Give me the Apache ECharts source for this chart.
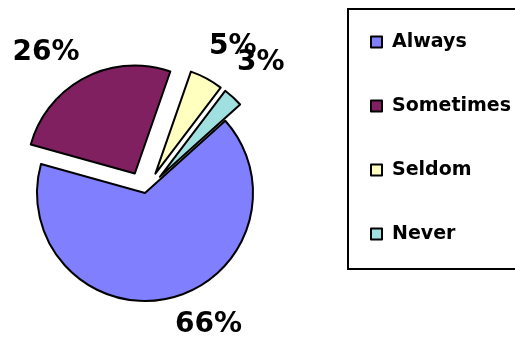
<!DOCTYPE html>
<html>
<head>
<meta charset="utf-8">
<script src="https://cdn.jsdelivr.net/npm/echarts@6/dist/echarts.min.js"></script>
<style>
html,body{margin:0;padding:0;background:#fff;}
#chart{width:515px;height:343px;}
</style>
</head>
<body>
<div id="chart"></div>
<script>
var categories = ['Always', 'Sometimes', 'Seldom', 'Never'];
var values = [66, 26, 5, 3];
var colors = ['#8080FF', '#802060', '#FFFFC0', '#A0E0E0'];
var exploded = [false, true, true, true];
// label line lengths used only to place the outside labels
var labelLen = [27.5, 28, 35.7, 47.3];
var labelLen2 = [-1, -7.7, -14.4, -27.9];

var data = categories.map(function (c, i) {
  return {
    name: c,
    value: values[i],
    selected: exploded[i],
    itemStyle: { color: colors[i] },
    labelLine: { show: false, length: labelLen[i], length2: labelLen2[i] }
  };
});

var chart = echarts.init(document.getElementById('chart'), null, { renderer: 'canvas' });
chart.setOption({
  animation: false,
  backgroundColor: '#ffffff',
  legend: {
    orient: 'vertical',
    left: 348,
    top: 9,
    padding: [23, 30, 25, 22],
    itemGap: 44,
    itemWidth: 11,
    itemHeight: 11,
    icon: 'rect',
    borderColor: '#000',
    borderWidth: 2,
    selectedMode: false,
    data: categories,
    itemStyle: { borderColor: '#000', borderWidth: 2 },
    textStyle: {
      fontFamily: 'DejaVu Sans',
      fontWeight: 'bold',
      fontSize: 19,
      lineHeight: 20,
      color: '#000',
      padding: [0, 0, 0, 5]
    }
  },
  series: [{
    type: 'pie',
    center: [145, 193],
    radius: 108,
    startAngle: 42,
    clockwise: true,
    selectedMode: 'multiple',
    selectedOffset: 22,
    avoidLabelOverlap: false,
    labelLayout: { hideOverlap: false },
    minShowLabelAngle: 0,
    itemStyle: { borderColor: '#000', borderWidth: 2 },
    emphasis: { disabled: true },
    select: { itemStyle: { borderColor: '#000', borderWidth: 2 } },
    label: {
      show: true,
      position: 'outside',
      formatter: '{c}%',
      fontFamily: 'DejaVu Sans',
      fontWeight: 'bold',
      fontSize: 28,
      color: '#000',
      distanceToLabelLine: 0
    },
    labelLine: { show: false },
    data: data
  }]
});
</script>
</body>
</html>
